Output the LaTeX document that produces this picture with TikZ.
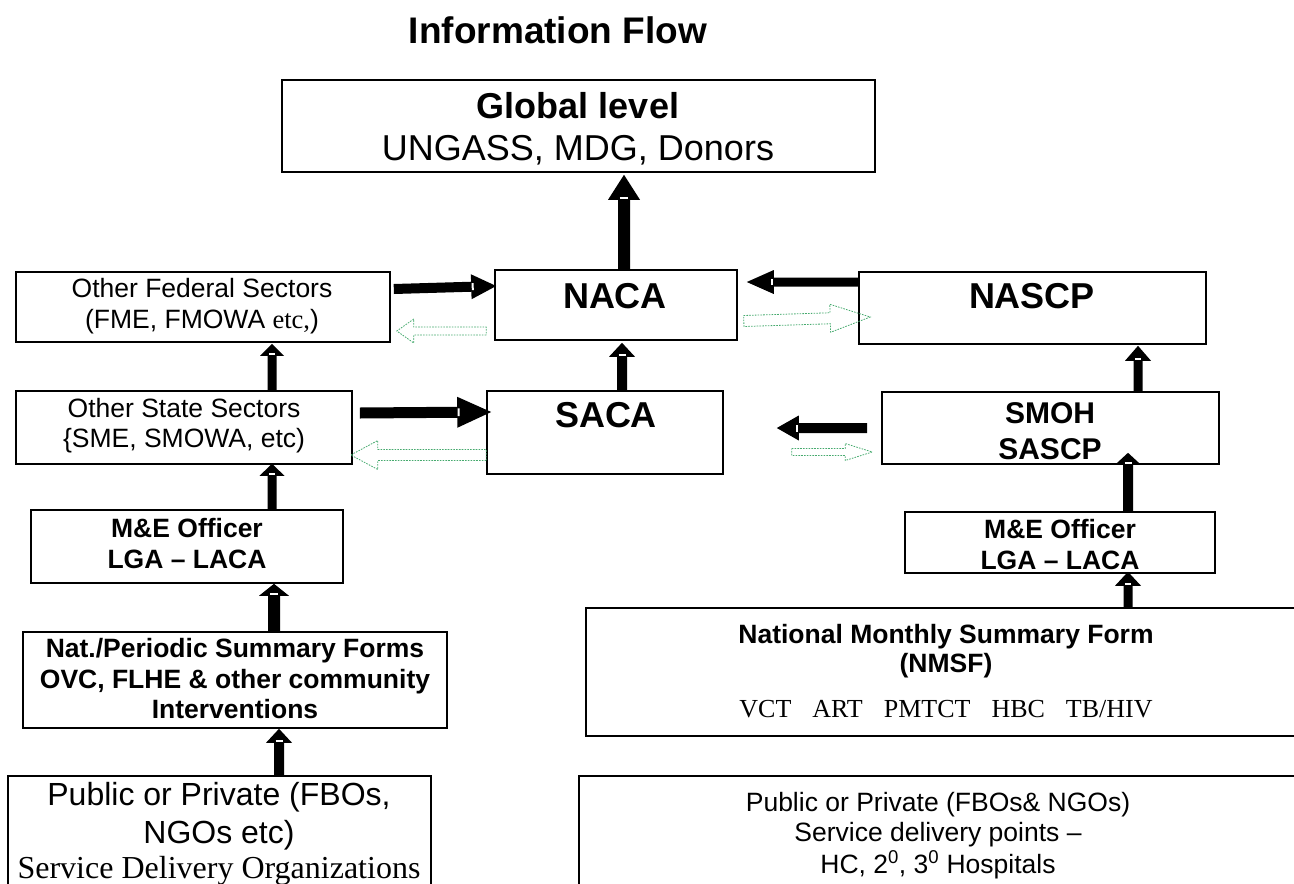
\documentclass[tikz,border=0pt]{standalone}
\usepackage{fontspec}
\setmainfont{Liberation Serif}
\setsansfont{Liberation Sans}
\usetikzlibrary{calc}
\definecolor{dgreen}{RGB}{70,170,110}
\newcommand\blkarrow[5]{% A, B, shaft half, head half, head length
  \coordinate (hb) at ($(#2)!#5pt!(#1)$);
  \coordinate (hn) at ($(hb)!1.5pt!(#2)$);
  \fill[black] ($(#1)!#3pt!90:(#2)$) -- ($(hb)!#3pt!90:(#2)$) -- ($(hb)!#4pt!90:(#2)$) -- (#2)
    -- ($(hb)!#4pt!-90:(#2)$) -- ($(hb)!#3pt!-90:(#2)$) -- ($(#1)!#3pt!-90:(#2)$) -- cycle;
  \draw[white, line width=2pt] ($(hn)!0.7*#3pt!90:(#2)$) -- ($(hn)!0.7*#3pt!-90:(#2)$);
}
\newcommand\grnarrow[5]{%
  \coordinate (hb) at ($(#2)!#5pt!(#1)$);
  \draw[garrow] ($(#1)!#3pt!90:(#2)$) -- ($(hb)!#3pt!90:(#2)$) -- ($(hb)!#4pt!90:(#2)$) -- (#2)
    -- ($(hb)!#4pt!-90:(#2)$) -- ($(hb)!#3pt!-90:(#2)$) -- ($(#1)!#3pt!-90:(#2)$) -- cycle;
}
\tikzset{
  box/.style={draw, line width=1.6pt, inner sep=0pt},
  garrow/.style={draw=dgreen, line width=0.8pt, dash pattern=on 1.6pt off 1.2pt},
  tx/.style={anchor=base, inner sep=0pt, font=\sffamily\fontsize{26.5}{30}\selectfont},
  txb/.style={anchor=base, inner sep=0pt, font=\sffamily\bfseries\fontsize{26.5}{30}\selectfont},
  txr/.style={anchor=base, inner sep=0pt, font=\rmfamily\fontsize{26}{30}\selectfont},
  big/.style={anchor=base, inner sep=0pt, font=\sffamily\bfseries\fontsize{36}{40}\selectfont},
  bigr/.style={anchor=base, inner sep=0pt, font=\sffamily\fontsize{36}{40}\selectfont},
  mid/.style={anchor=base, inner sep=0pt, font=\sffamily\bfseries\fontsize{30}{34}\selectfont},
  bl/.style={anchor=base, inner sep=0pt, font=\sffamily\fontsize{32}{36}\selectfont},
  blr/.style={anchor=base, inner sep=0pt, font=\rmfamily\fontsize{32}{36}\selectfont},
}
\begin{document}
\begin{tikzpicture}[x=1pt,y=1pt]
\path[use as bounding box] (0,0) rectangle (1294,-884);
\clip (0,0) rectangle (1294,-884);

% boxes
\node[box, minimum width=593pt, minimum height=92pt] (global) at (578.5,-126) {};
\node[box, minimum width=242pt, minimum height=70pt] (naca) at (616,-305) {};
\node[box, minimum width=347pt, minimum height=72pt] (nascp) at (1032.5,-308) {};
\node[box, minimum width=374pt, minimum height=70pt] (fed) at (203,-307) {};
\node[box, minimum width=336pt, minimum height=73pt] (state) at (184,-427.5) {};
\node[box, minimum width=236pt, minimum height=83pt] (saca) at (605,-432.5) {};
\node[box, minimum width=337pt, minimum height=72pt] (smoh) at (1050.5,-428) {};
\node[box, minimum width=312pt, minimum height=73pt] (meL) at (187,-546.5) {};
\node[box, minimum width=310pt, minimum height=61pt] (meR) at (1060,-542.5) {};
\node[box, minimum width=424pt, minimum height=96pt] (nat) at (235,-680) {};
\node[box, minimum width=720pt, minimum height=128pt] (nmsf) at (946,-672) {};
\node[box, minimum width=423pt, minimum height=124pt] (blbox) at (219.5,-838) {};
\node[box, minimum width=721pt, minimum height=124pt] (brbox) at (939.5,-838) {};

% texts
\node[anchor=base, inner sep=0pt, font=\sffamily\bfseries\fontsize{37}{40}\selectfont] (title) at (558,-43) {Information Flow};
\node[big] (g1) at (578,-118) {Global level};
\node[bigr] (g2) at (578,-160) {UNGASS, MDG, Donors};
\node[big] (tnaca) at (615,-308) {NACA};
\node[big] (tnascp) at (1032,-308) {NASCP};
\node[big] (tsaca) at (606,-427) {SACA};
\node[mid] (ts1) at (1050,-423) {SMOH};
\node[mid] (ts2) at (1050,-459) {SASCP};
\node[tx] (tf1) at (202,-297) {Other Federal Sectors};
\node[tx] (tf2) at (202,-328) {(FME, FMOWA {\rmfamily etc,})};
\node[tx] (tst1) at (184,-417) {Other State Sectors};
\node[tx] (tst2) at (184,-447) {\{SME, SMOWA, etc)};
\node[txb] (tml1) at (187,-537) {M\&E Officer};
\node[txb] (tml2) at (187,-568) {LGA – LACA};
\node[txb] (tmr1) at (1060,-538) {M\&E Officer};
\node[txb] (tmr2) at (1060,-569) {LGA – LACA};
\node[txb] (tn1) at (235,-657) {Nat./Periodic Summary Forms};
\node[txb] (tn2) at (235,-688) {OVC, FLHE \& other community};
\node[txb] (tn3) at (235,-718) {Interventions};
\node[txb] (tm1) at (946,-643) {National Monthly Summary Form};
\node[txb] (tm2) at (946,-672) {(NMSF)};
\node[txr] (tm3) at (946,-717) {VCT\hspace{21pt}ART\hspace{21pt}PMTCT\hspace{21pt}HBC\hspace{21pt}TB/HIV};
\node[bl] (tb1) at (219,-805) {Public or Private (FBOs,};
\node[bl] (tb2) at (219,-843) {NGOs etc)};
\node[blr] (tb3) at (219,-878) {Service Delivery Organizations};
\node[tx] (tr1) at (938,-811) {Public or Private (FBOs\& NGOs)};
\node[tx] (tr2) at (938,-841) {Service delivery points –};
\node[tx] (tr3) at (938,-873) {HC, 2\textsuperscript{0}, 3\textsuperscript{0} Hospitals};

% black arrows
\coordinate (n1a) at ($(naca.north)+(8,0)$);
\coordinate (n1b) at ($(n1a |- global.south)+(0,-2)$);
\blkarrow{n1a}{n1b}{6}{16}{25}
\coordinate (n2a) at ($(saca.north)+(17,0)$);
\coordinate (n2b) at ($(n2a |- naca.south)+(0,-2)$);
\blkarrow{n2a}{n2b}{5}{13}{14}
\coordinate (n3a) at ($(state.north)+(88,0)$);
\coordinate (n3b) at ($(n3a |- fed.south)+(0,-1)$);
\blkarrow{n3a}{n3b}{4.5}{12}{12}
\coordinate (n4a) at ($(meL.north)+(85,0)$);
\coordinate (n4b) at ($(n4a |- state.south)+(0,1)$);
\blkarrow{n4a}{n4b}{4.5}{12.5}{12}
\coordinate (n5a) at ($(nat.north)+(39,0)$);
\coordinate (n5b) at (n5a |- meL.south);
\blkarrow{n5a}{n5b}{6}{15}{12}
\coordinate (n6a) at ($(blbox.north)+(59.5,0)$);
\coordinate (n6b) at (n6a |- nat.south);
\blkarrow{n6a}{n6b}{5}{13}{14}
\coordinate (n7a) at ($(fed.east)+(3,18)$);
\coordinate (n7b) at ($(naca.west)+(2,19)$);
\blkarrow{n7a}{n7b}{5}{12.5}{25}
\coordinate (n8a) at ($(nascp.west)+(0,26)$);
\coordinate (n8b) at ($(naca.east)+(9,23)$);
\blkarrow{n8a}{n8b}{4.5}{12}{27}
\coordinate (n9a) at ($(state.east)+(7,14.5)$);
\coordinate (n9b) at ($(saca.west)+(5,20.5)$);
\blkarrow{n9a}{n9b}{5.5}{15.5}{34}
\coordinate (n10a) at ($(smoh.west)+(-14,0)$);
\coordinate (n10b) at ($(saca.east)+(53,4.5)$);
\blkarrow{n10a}{n10b}{5}{12.5}{22}
\coordinate (n11a) at ($(smoh.north)+(87.5,0)$);
\coordinate (n11b) at ($(n11a |- nascp.south)+(0,-1)$);
\blkarrow{n11a}{n11b}{4.5}{13}{15}
\coordinate (n12a) at ($(meR.north)+(68,0)$);
\coordinate (n12b) at ($(n12a |- smoh.south)+(0,12)$);
\blkarrow{n12a}{n12b}{5}{13}{12}
\coordinate (n13a) at ($(nmsf.north)+(182,0)$);
\coordinate (n13b) at ($(n13a |- meR.south)+(0,2)$);
\blkarrow{n13a}{n13b}{4.5}{13}{14}

% green dashed hollow arrows
\coordinate (g1a) at ($(naca.west)+(-8,-26)$);
\coordinate (g1b) at ($(fed.east)+(6,-24)$);
\grnarrow{g1a}{g1b}{4}{12}{17}
\coordinate (g2a) at ($(saca.west)+(0,-22.5)$);
\coordinate (g2b) at ($(state.east)+(-2,-27.5)$);
\grnarrow{g2a}{g2b}{5.5}{14.5}{27}
\coordinate (g3a) at ($(naca.east)+(6,-16)$);
\coordinate (g3b) at ($(nascp.west)+(12,-9)$);
\grnarrow{g3a}{g3b}{5.5}{14}{40}
\coordinate (g4a) at ($(saca.east)+(68,-19.5)$);
\coordinate (g4b) at ($(smoh.west)+(-9,-24)$);
\grnarrow{g4a}{g4b}{3.5}{8.5}{27}
\end{tikzpicture}
\end{document}
